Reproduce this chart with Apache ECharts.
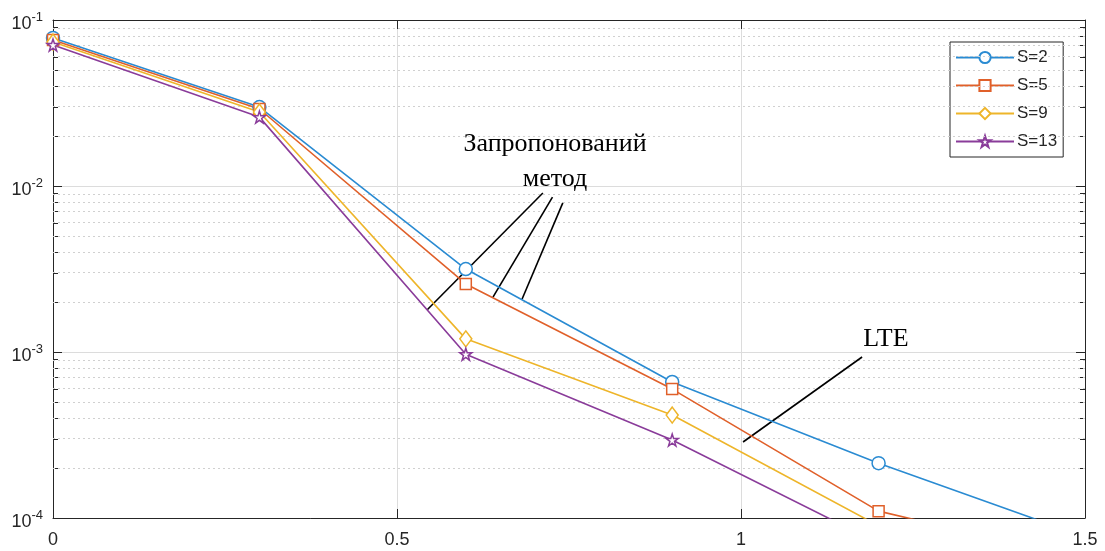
<!DOCTYPE html>
<html><head><meta charset="utf-8">
<script src="https://cdn.jsdelivr.net/npm/echarts@6/dist/echarts.min.js"></script>
<style>html,body{margin:0;padding:0;background:#fff}#c{width:1105px;height:551px}</style>
</head><body><div id="c"></div>
<script>
// ---- data ----
const xValues = [0, 0.3, 0.6, 0.9, 1.2, 1.5];
const seriesNames = ['S=2', 'S=5', 'S=9', 'S=13'];
const s2  = [0.078, 0.0299, 0.00316, 0.00066, 0.000214, 0.000077];
const s5  = [0.0758, 0.0291, 0.00257, 0.000598, 0.000110, 0.000056];
const s9  = [0.0736, 0.0279, 0.00120, 0.000417, 0.0000897];
const s13 = [0.0707, 0.0260, 0.00097, 0.000295, 0.0000705];
const xTicks = [0, 0.5, 1, 1.5];
const yDecades = [1e-4, 1e-3, 1e-2, 1e-1];
const annoText1 = ['Запропонований', 'метод'];
const annoText2 = 'LTE';
// annotation pointer segments in data coordinates [[x1,y1],[x2,y2]]
const annoLines = [
  [[0.712, 0.00908], [0.5436, 0.00179]],
  [[0.726, 0.00856], [0.6395, 0.00214]],
  [[0.741, 0.00791], [0.6817, 0.00208]],
  [[1.176, 0.000933], [1.003, 0.000287]]
];

const colors = ['#2a8bd2', '#e0602a', '#eeb52a', '#8a3c9a'];
const symbols = ['circle', 'rect', 'diamond',
  'path://M50,2 L61,36 L97,36 L68,57 L79,92 L50,71 L21,92 L32,57 L3,36 L39,36 Z'];
const symbolSizes = [13, 11, [12, 16], 12];
const allData = [s2, s5, s9, s13];

const txt = '#262626';
const minorLogs = [];
for (let d = -4; d <= -2; d++) {
  for (let k = 2; k <= 9; k++) { minorLogs.push(d + Math.log10(k)); }
}

const series = allData.map((arr, i) => ({
  name: seriesNames[i], type: 'line', xAxisIndex: 0, yAxisIndex: 0,
  data: arr.map((v, j) => [xValues[j], v]),
  symbol: symbols[i], symbolSize: symbolSizes[i], showAllSymbol: true,
  clip: true, z: 5,
  lineStyle: { color: colors[i], width: 1.6 },
  itemStyle: { color: '#fff', borderColor: colors[i], borderWidth: 1.5 }
}));
// minor grid (dotted), on the linear helper axis (log10 units)
series.push({
  name: '_grid', type: 'line', xAxisIndex: 0, yAxisIndex: 1, data: [], z: 1,
  markLine: { silent: true, symbol: 'none', animation: false, label: { show: false },
    lineStyle: { type: [2, 3], color: '#d0d0d0', width: 1 },
    data: minorLogs.map(v => ({ yAxis: v })) }
});
series.push({
  name: '_anno', type: 'line', xAxisIndex: 0, yAxisIndex: 0, data: [], z: 6,
  markLine: { silent: true, symbol: 'none', animation: false, label: { show: false },
    lineStyle: { type: 'solid', color: '#000', width: 1.6 },
    data: annoLines.map(s => [{ coord: s[0] }, { coord: s[1] }]) }
});

const chart = echarts.init(document.getElementById('c'), null, { renderer: 'canvas' });
chart.setOption({
  animation: false,
  backgroundColor: '#fff',
  grid: { left: 53, right: 20, top: 20, bottom: 33, containLabel: false },
  legend: {
    data: seriesNames, orient: 'vertical', left: 950, top: 42,
    padding: [7, 6, 7, 5], itemWidth: 58, itemHeight: 14, itemGap: 11,
    backgroundColor: '#fff', borderColor: txt, borderWidth: 1, borderRadius: 0,
    textStyle: { fontFamily: 'Liberation Sans, Arial', fontSize: 17, color: txt, padding: [0, 0, 0, -2] }
  },
  xAxis: [
    { type: 'value', position: 'bottom', min: 0, max: 1.5, interval: 0.5,
      axisLine: { show: true, lineStyle: { color: txt, width: 1 } },
      axisTick: { show: true, inside: true, length: 9, lineStyle: { color: txt } },
      axisLabel: { show: true, margin: 13, fontFamily: 'Liberation Sans, Arial', fontSize: 18, color: txt,
        formatter: v => String(v) },
      splitLine: { show: true, lineStyle: { color: '#dcdcdc', width: 1 } } },
    { type: 'value', position: 'top', min: 0, max: 1.5, interval: 0.5,
      axisLine: { show: true, lineStyle: { color: txt, width: 1 } },
      axisTick: { show: true, inside: true, length: 9, lineStyle: { color: txt } },
      axisLabel: { show: false }, splitLine: { show: false } }
  ],
  yAxis: [
    { type: 'log', logBase: 10, position: 'left', min: yDecades[0], max: yDecades[yDecades.length - 1],
      axisLine: { show: true, lineStyle: { color: txt, width: 1 } },
      axisTick: { show: true, inside: true, length: 9, lineStyle: { color: txt } },
      axisLabel: { show: true, margin: 10, color: txt, fontFamily: 'Liberation Sans, Arial',
        formatter: v => '{b|10}{s|' + Math.round(Math.log10(v)) + '}',
        rich: { b: { fontSize: 18, color: txt, fontFamily: 'Liberation Sans, Arial', padding: [8, 0, 0, 0] },
                s: { fontSize: 13, color: txt, fontFamily: 'Liberation Sans, Arial', padding: [0, 0, 6, 0] } } },
      splitLine: { show: true, lineStyle: { color: '#dcdcdc', width: 1 } } },
    { type: 'value', position: 'left', min: -4, max: -1,
      axisLine: { show: false }, axisLabel: { show: false }, splitLine: { show: false },
      axisTick: { show: true, inside: true, length: 5, customValues: minorLogs, lineStyle: { color: txt } } },
    { type: 'log', logBase: 10, position: 'right', min: yDecades[0], max: yDecades[yDecades.length - 1],
      axisLine: { show: true, lineStyle: { color: txt, width: 1 } },
      axisTick: { show: true, inside: true, length: 9, lineStyle: { color: txt } },
      axisLabel: { show: false }, splitLine: { show: false } },
    { type: 'value', position: 'right', min: -4, max: -1,
      axisLine: { show: false }, axisLabel: { show: false }, splitLine: { show: false },
      axisTick: { show: true, inside: true, length: 5, customValues: minorLogs, lineStyle: { color: txt } } }
  ],
  series: series,
  graphic: [
    { type: 'text', x: 555, y: 144, z: 10, style: { text: annoText1[0], font: '26px "Liberation Serif", serif', fill: '#000', align: 'center', verticalAlign: 'middle' } },
    { type: 'text', x: 555, y: 179, z: 10, style: { text: annoText1[1], font: '26px "Liberation Serif", serif', fill: '#000', align: 'center', verticalAlign: 'middle' } },
    { type: 'text', x: 886, y: 339, z: 10, style: { text: annoText2, font: '26px "Liberation Serif", serif', fill: '#000', align: 'center', verticalAlign: 'middle' } }
  ]
});
</script></body></html>
